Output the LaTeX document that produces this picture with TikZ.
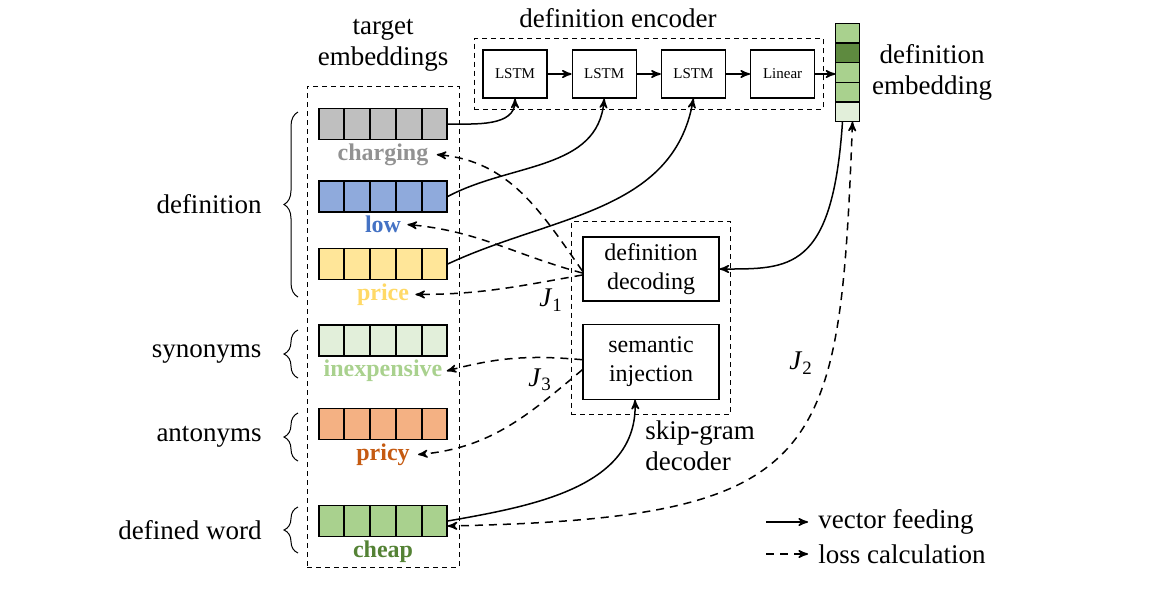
\documentclass[tikz,border=0pt]{standalone}
\usepackage{fontspec}
\setmainfont{Liberation Serif}
\usetikzlibrary{arrows,positioning,fit,calc,decorations.pathreplacing}

\definecolor{cellgray}{HTML}{BFBFBF}
\definecolor{txtgray}{HTML}{929292}
\definecolor{cellblue}{HTML}{8FAADC}
\definecolor{txtblue}{HTML}{4472C4}
\definecolor{cellyellow}{HTML}{FFE699}
\definecolor{txtyellow}{HTML}{FFD966}
\definecolor{palegreen}{HTML}{E2EFDA}
\definecolor{txtpale}{HTML}{A9D18E}
\definecolor{cellorange}{HTML}{F4B183}
\definecolor{txtorange}{HTML}{C55A11}
\definecolor{cellgreen}{HTML}{A9D18E}
\definecolor{darkgreen}{HTML}{5E8A3F}
\definecolor{txtgreen}{HTML}{548235}

\newcommand\wordvec[4]{% name, y, fill colour, label colour
  \node[vec,fill=#3] (#1) at (383,#2) {};
  \foreach \k in {1,...,4}
    \draw[line width=0.7pt] ($(#1.north west)!{\k/5}!(#1.north east)$) -- ($(#1.south west)!{\k/5}!(#1.south east)$);
  \node[word,text=#4,below=1.5pt of #1] (#1-lbl) {#1};
}
\newcommand\groupbrace[4]{% top y, bottom y, node name, label
  \draw[brace] (298,#2) -- node[side,left=18pt] (#3) {#4} (298,#1);
}
\newcommand\lossname[1]{\textit{J}\textsubscript{#1}}

\begin{document}
\begin{tikzpicture}[x=0.5pt,y=-0.5pt]
  \tikzset{
    >=stealth',
    node distance=6pt,
    box/.style={draw,line width=0.6pt,minimum width=32pt,minimum height=24pt,inner sep=0,font=\fontsize{7.5}{9}\selectfont},
    unit/.style={draw,line width=0.6pt,minimum width=68pt,align=center,inner sep=0,font=\fontsize{12}{14.5}\selectfont},
    group/.style={draw,line width=0.5pt,dash pattern=on 2.5pt off 2pt},
    vec/.style={draw,line width=0.7pt,minimum width=64pt,minimum height=15.5pt,inner sep=0},
    word/.style={font=\fontsize{12}{14}\selectfont\bfseries,inner sep=0},
    side/.style={font=\fontsize{13.5}{15.5}\selectfont,inner sep=0,align=center},
    feed/.style={->,line width=0.75pt},
    loss/.style={->,line width=0.75pt,dash pattern=on 4pt off 3pt},
    brace/.style={decorate,decoration={brace,amplitude=7pt},line width=0.5pt},
  }
  \useasboundingbox (0,0) rectangle (1152,590);

  % target embeddings
  \wordvec{charging}{124}{cellgray}{txtgray}
  \wordvec{low}{196.5}{cellblue}{txtblue}
  \wordvec{price}{264}{cellyellow}{txtyellow}
  \wordvec{inexpensive}{340.5}{palegreen}{txtpale}
  \wordvec{pricy}{424}{cellorange}{txtorange}
  \wordvec{cheap}{521}{cellgreen}{txtgreen}
  \node[group,minimum width=76pt,minimum height=240.5pt] (targets) at (383,326.5) {};
  \node[side,above=7pt of targets] (targets-txt) {target\\embeddings};

  \groupbrace{112}{297}{definition}{definition}
  \groupbrace{330}{378}{synonyms}{synonyms}
  \groupbrace{413}{461}{antonyms}{antonyms}
  \groupbrace{507}{553}{defined}{defined word}

  % definition encoder
  \node[box] (lstm1) at (515,74) {LSTM};
  \node[box] (lstm2) [right=12pt of lstm1] {LSTM};
  \node[box] (lstm3) [right=12pt of lstm2] {LSTM};
  \node[box] (linear) [right=12pt of lstm3] {Linear};
  \node[group,fit=(lstm1)(linear),inner xsep=4pt,inner ysep=5.5pt] (encoder) {};
  \node[side] (encoder-txt) at (618,18) {definition encoder};

  % definition embedding
  \node[draw,line width=0.7pt,minimum width=11.5pt,minimum height=48.5pt,inner sep=0] (defemb) at (847.5,72.5) {};
  \foreach \c [count=\k] in {cellgreen,darkgreen,cellgreen,cellgreen,palegreen}
    \draw[line width=0.7pt,fill=\c] ($(defemb.north west)!{(\k-1)/5}!(defemb.south west)$) rectangle ($(defemb.north east)!{\k/5}!(defemb.south east)$);
  \node[side,right=6pt of defemb] (defemb-txt) {definition\\embedding};

  % skip-gram decoder
  \node[unit,minimum height=32pt] (defdec) at (651,269) {definition\\decoding};
  \node[unit,minimum height=37.5pt,below=11pt of defdec] (seminj) {semantic\\injection};
  \node[group,fit=(defdec)(seminj),inner xsep=5.5pt,inner ysep=7.5pt] (decoder) {};
  \node[side,align=left,anchor=north west] (decoder-txt) at ([xshift=-3pt,yshift=-2.5pt]decoder.south) {skip-gram\\decoder};

  % vector feeding
  \draw[feed] (charging.east) to[out=0,in=-90] (lstm1.south);
  \draw[feed] (low.east) to[out=28,in=-95] (lstm2.south);
  \draw[feed] (price.east) to[out=25,in=-100] (lstm3.south);
  \draw[feed] (lstm1) -- (lstm2);
  \draw[feed] (lstm2) -- (lstm3);
  \draw[feed] (lstm3) -- (linear);
  \draw[feed] (linear.east) -- (linear.east -| defemb.west);
  \draw[feed] ([xshift=-2.5pt]defemb.south) .. controls +(-10,150) and +(70,0) .. (defdec.east);
  \draw[feed] (cheap.east) to[out=10,in=-88] ([xshift=-8pt]seminj.south);

  % loss calculation
  \draw[loss] ([yshift=-1pt]defdec.west) to[out=125,in=-5] ([xshift=4pt]charging-lbl.east);
  \draw[loss] ([yshift=-2pt]defdec.west) to[out=165,in=-5] ([xshift=3pt]low-lbl.east);
  \draw[loss] ([yshift=-3pt]defdec.west) to[out=-170,in=0] ([xshift=3pt]price-lbl.east);
  \draw[loss] ([yshift=1pt]seminj.west) to[out=175,in=15] ([xshift=2pt]inexpensive-lbl.east);
  \draw[loss] ([yshift=-4pt]seminj.west) to[out=-140,in=5] ([xshift=4pt]pricy-lbl.east);
  \draw[loss,<->] ([xshift=2.5pt]defemb.south) .. controls +(-13,339) and +(379,-8) .. ([yshift=-2.5pt]cheap.east);
  \node[side] (j1) at (551,300) {\lossname{1}};
  \node[side] (j3) at (540,380) {\lossname{3}};
  \node[side] (j2) at (801,363) {\lossname{2}};

  % legend
  \node[side,anchor=west] (feed-txt) at (818,522) {vector feeding};
  \node[side,anchor=west] (loss-txt) at (818,554) {loss calculation};
  \coordinate (feed-from) at (766,522);
  \coordinate (loss-from) at (766,554);
  \draw[feed] (feed-from) -- ([xshift=-5pt]feed-txt.west);
  \draw[loss] (loss-from) -- ([xshift=-5pt]loss-txt.west);
\end{tikzpicture}
\end{document}
